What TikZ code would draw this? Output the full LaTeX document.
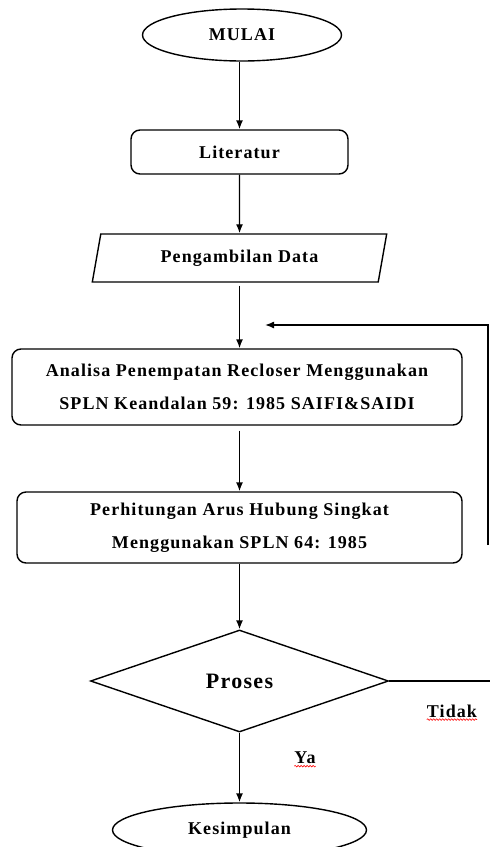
\documentclass[tikz,border=0pt]{standalone}
\usepackage{fontspec}
\setmainfont{Liberation Serif}[LetterSpace=6]
\usetikzlibrary{shapes.geometric,arrows.meta,decorations.pathmorphing}
\begin{document}
\begin{tikzpicture}[x=1pt,y=-1pt,
  every node/.style={font=\fontsize{18}{33}\selectfont\bfseries, inner sep=0pt},
  line/.style={line width=1.4pt},
  arr/.style={line, -{Latex[length=9pt,width=7pt]}},
  term/.style={ellipse, draw, line width=1.4pt},
  proc/.style={rectangle, rounded corners=9pt, draw, line width=1.4pt, align=center},
  io/.style={trapezium, trapezium left angle=73.7, trapezium right angle=106.3, trapezium stretches=true, draw, line width=1.4pt},
  decis/.style={diamond, draw, line width=1.4pt, shape aspect=2.9},
  squig/.style={draw=red, line width=0.6pt, decorate, decoration={snake, amplitude=0.8pt, segment length=3pt}}
]
\useasboundingbox (0,0) rectangle (490,847);
\node[term, minimum width=199, minimum height=52] (mulai) at (242,35) {MULAI};
\node[proc, minimum width=217, minimum height=44] (lit) at (239.5,152) {Literatur};
\node[io, minimum width=295, minimum height=48] (data) at (239.5,258) {Pengambilan Data};
\node[proc, minimum width=450, minimum height=76] (anal) at (237,387) {Analisa Penempatan Recloser Menggunakan\\SPLN Keandalan 59: 1985 SAIFI\&SAIDI};
\node[proc, minimum width=445, minimum height=71] (hit) at (239.5,527.5) {Perhitungan Arus Hubung Singkat\\Menggunakan SPLN 64: 1985};
\node[decis, minimum width=298, minimum height=102] (dec) at (239.5,681) {\fontsize{22}{26}\selectfont Proses};
\node[term, minimum width=254, minimum height=54] (kes) at (239.5,830) {Kesimpulan};
\node (tidak) at (452,711) {Tidak};
\node (ya) at (305,758) {Ya};

\coordinate (r1) at (490,681);
\coordinate (r2) at (488,545);
\coordinate (r3) at (488,325);
\coordinate (fb) at (265,325);

\draw[arr] (mulai.south -| lit.north) -- (lit.north);
\draw[arr] (lit.south) -- (data.north);
\draw[arr, shorten <=3pt] (data.south) -- (anal.north -| data.south);
\draw[arr, shorten <=5pt] (anal.south -| hit.north) -- (hit.north);
\draw[arr] (hit.south) -- (dec.north);
\draw[arr] (dec.south) -- (kes.north);
\draw[line] (dec.east) -- (r1);
\draw[arr] (r2) -- (r3) -- (fb);

\draw[squig] ([yshift=-2pt]tidak.south west) -- ([yshift=-2pt]tidak.south east);
\draw[squig] ([yshift=-2pt]ya.south west) -- ([yshift=-2pt]ya.south east);
\end{tikzpicture}
\end{document}
